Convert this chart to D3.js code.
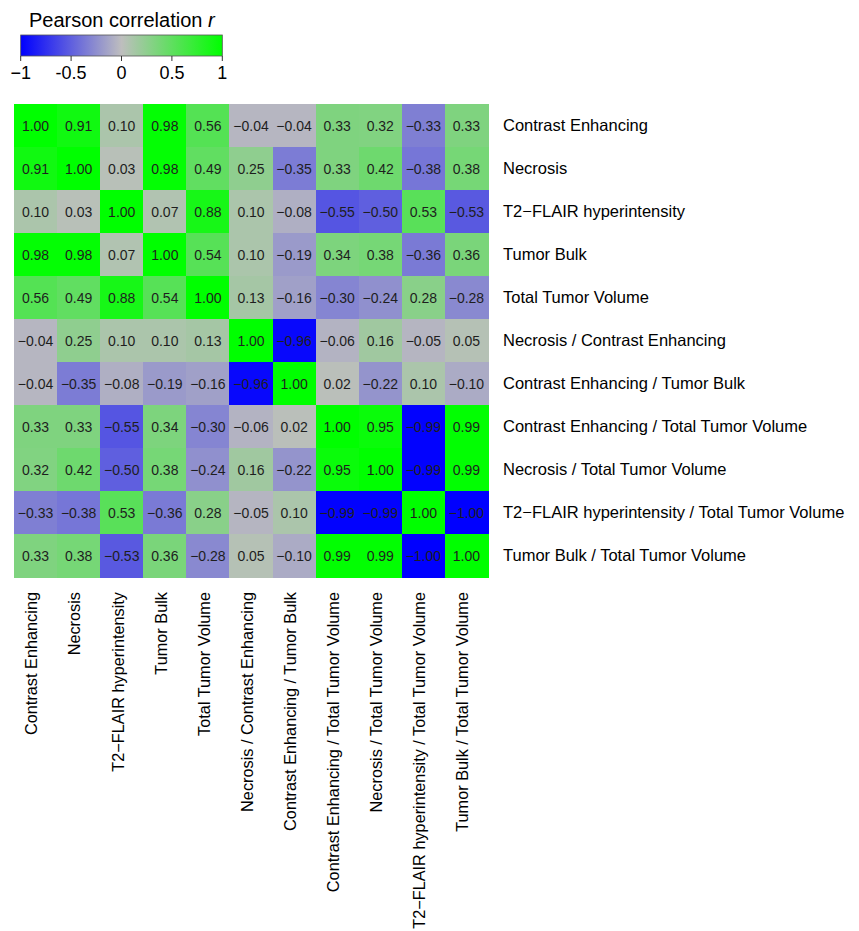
<!DOCTYPE html>
<html>
<head>
<meta charset="utf-8">
<script src="https://cdn.jsdelivr.net/npm/d3@7/dist/d3.min.js"></script>
<style>
  html, body { margin: 0; padding: 0; background: #ffffff; }
  svg { display: block; font-family: "Liberation Sans", Arial, Helvetica, sans-serif; }
</style>
</head>
<body>
<svg id="chart" width="859" height="931"></svg>
<script>
// Variables (rows and columns share the same order)
const variables = [
  "Contrast Enhancing",
  "Necrosis",
  "T2\u2212FLAIR hyperintensity",
  "Tumor Bulk",
  "Total Tumor Volume",
  "Necrosis / Contrast Enhancing",
  "Contrast Enhancing / Tumor Bulk",
  "Contrast Enhancing / Total Tumor Volume",
  "Necrosis / Total Tumor Volume",
  "T2\u2212FLAIR hyperintensity / Total Tumor Volume",
  "Tumor Bulk / Total Tumor Volume"
];

// Pearson r, one row per variable
const rContrastEnhancing = [1.00, 0.91, 0.10, 0.98, 0.56, -0.04, -0.04, 0.33, 0.32, -0.33, 0.33];
const rNecrosis          = [0.91, 1.00, 0.03, 0.98, 0.49, 0.25, -0.35, 0.33, 0.42, -0.38, 0.38];
const rT2Flair           = [0.10, 0.03, 1.00, 0.07, 0.88, 0.10, -0.08, -0.55, -0.50, 0.53, -0.53];
const rTumorBulk         = [0.98, 0.98, 0.07, 1.00, 0.54, 0.10, -0.19, 0.34, 0.38, -0.36, 0.36];
const rTotalVolume       = [0.56, 0.49, 0.88, 0.54, 1.00, 0.13, -0.16, -0.30, -0.24, 0.28, -0.28];
const rNecOverCE         = [-0.04, 0.25, 0.10, 0.10, 0.13, 1.00, -0.96, -0.06, 0.16, -0.05, 0.05];
const rCEOverTB          = [-0.04, -0.35, -0.08, -0.19, -0.16, -0.96, 1.00, 0.02, -0.22, 0.10, -0.10];
const rCEOverTTV         = [0.33, 0.33, -0.55, 0.34, -0.30, -0.06, 0.02, 1.00, 0.95, -0.99, 0.99];
const rNecOverTTV        = [0.32, 0.42, -0.50, 0.38, -0.24, 0.16, -0.22, 0.95, 1.00, -0.99, 0.99];
const rT2OverTTV         = [-0.33, -0.38, 0.53, -0.36, 0.28, -0.05, 0.10, -0.99, -0.99, 1.00, -1.00];
const rTBOverTTV         = [0.33, 0.38, -0.53, 0.36, -0.28, 0.05, -0.10, 0.99, 0.99, -1.00, 1.00];

const rows = [rContrastEnhancing, rNecrosis, rT2Flair, rTumorBulk, rTotalVolume,
              rNecOverCE, rCEOverTB, rCEOverTTV, rNecOverTTV, rT2OverTTV, rTBOverTTV];

// Colour bar ticks
const legendTicks = [-1, -0.5, 0, 0.5, 1];
const legendTickLabels = ["\u22121", "-0.5", "0", "0.5", "1"];

const svg = d3.select("#chart");

const color = d3.scaleLinear()
  .domain([-1, 0, 1])
  .range(["#0000ff", "#bebebe", "#00ff00"])
  .interpolate(d3.interpolateRgb);

// Heatmap geometry
const gridLeft = 14, gridTop = 104, gridRight = 488, gridBottom = 577;
const x = d3.scaleBand().domain(d3.range(variables.length)).range([gridLeft, gridRight]);
const y = d3.scaleBand().domain(d3.range(variables.length)).range([gridTop, gridBottom]);

const cells = [];
rows.forEach((row, i) => row.forEach((v, j) => cells.push({ i, j, v })));

const heat = svg.append("g");
heat.selectAll("rect")
  .data(cells)
  .join("rect")
  .attr("x", d => x(d.j))
  .attr("y", d => y(d.i))
  .attr("width", x.bandwidth() + 0.5)
  .attr("height", y.bandwidth() + 0.5)
  .attr("fill", d => color(d.v))
  .attr("shape-rendering", "crispEdges");

heat.selectAll("text")
  .data(cells)
  .join("text")
  .attr("x", d => x(d.j) + x.bandwidth() / 2)
  .attr("y", d => y(d.i) + y.bandwidth() / 2)
  .attr("dy", "0.36em")
  .attr("text-anchor", "middle")
  .attr("font-size", 14)
  .attr("fill", "#1e1e1e")
  .text(d => d3.format(".2f")(d.v).replace("-", "\u2212"));

// Row labels on the right
svg.append("g").selectAll("text")
  .data(variables)
  .join("text")
  .attr("x", 503)
  .attr("y", (d, i) => y(i) + y.bandwidth() / 2)
  .attr("dy", "0.36em")
  .attr("font-size", 16.5)
  .attr("fill", "#000")
  .text(d => d);

// Column labels below, rotated
svg.append("g").selectAll("text")
  .data(variables)
  .join("text")
  .attr("transform", (d, i) => `translate(${x(i) + x.bandwidth() / 2 + 0.5},592) rotate(-90)`)
  .attr("dy", "0.08em")
  .attr("text-anchor", "end")
  .attr("font-size", 16.3)
  .attr("fill", "#000")
  .text(d => d);

// Colour key
const legLeft = 20.7, legRight = 222.3, legTop = 35, legBottom = 56;
const lx = d3.scaleLinear().domain([-1, 1]).range([legLeft, legRight]);

const defs = svg.append("defs");
const grad = defs.append("linearGradient").attr("id", "rgrad")
  .attr("x1", "0%").attr("x2", "100%").attr("y1", "0%").attr("y2", "0%");
d3.range(-1, 1.0001, 0.1).forEach(v => {
  grad.append("stop")
    .attr("offset", ((v + 1) / 2 * 100) + "%")
    .attr("stop-color", color(v));
});

const leg = svg.append("g");
leg.append("rect")
  .attr("x", legLeft).attr("y", legTop)
  .attr("width", legRight - legLeft).attr("height", legBottom - legTop)
  .attr("fill", "url(#rgrad)")
  .attr("stroke", "#555").attr("stroke-width", 0.8);

leg.selectAll("line.tick")
  .data(legendTicks)
  .join("line")
  .attr("class", "tick")
  .attr("x1", d => lx(d)).attr("x2", d => lx(d))
  .attr("y1", legBottom).attr("y2", legBottom + 5)
  .attr("stroke", "#333").attr("stroke-width", 1);

leg.selectAll("text.ticklab")
  .data(legendTicks)
  .join("text")
  .attr("class", "ticklab")
  .attr("x", d => lx(d))
  .attr("y", 79)
  .attr("text-anchor", "middle")
  .attr("font-size", 18)
  .attr("fill", "#000")
  .text((d, i) => legendTickLabels[i]);

const title = leg.append("text")
  .attr("x", 29)
  .attr("y", 27)
  .attr("font-size", 20)
  .attr("fill", "#000");
title.append("tspan").text("Pearson correlation ");
title.append("tspan").attr("font-style", "italic").text("r");
</script>
</body>
</html>
